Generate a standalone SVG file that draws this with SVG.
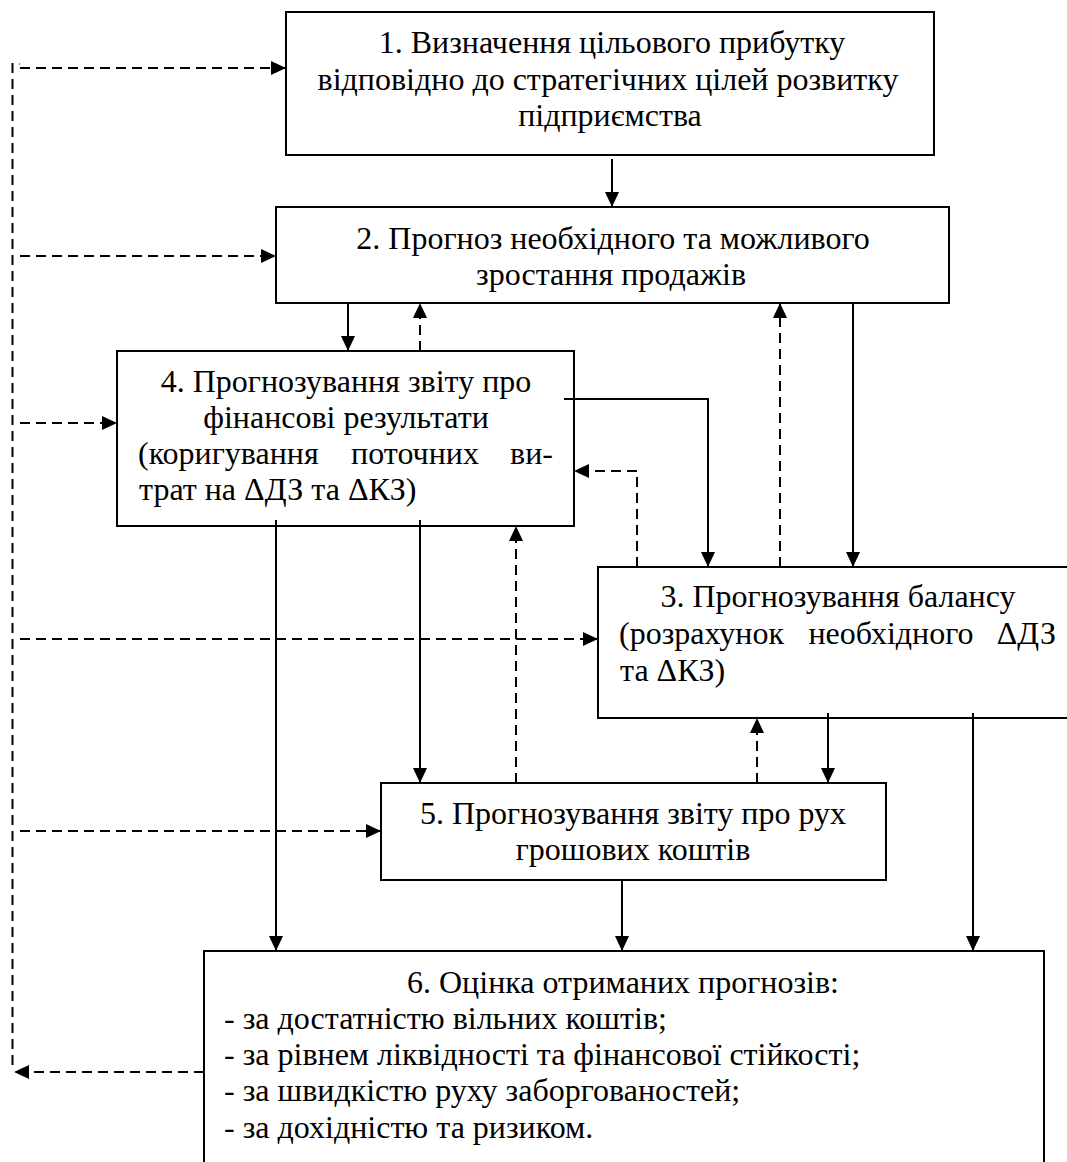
<svg xmlns="http://www.w3.org/2000/svg" width="1067" height="1162" viewBox="0 0 1067 1162">
<defs>
<marker id="ah" markerUnits="userSpaceOnUse" markerWidth="15" markerHeight="14" refX="15" refY="7" orient="auto">
<path d="M0,0 L15,7 L0,14 z" fill="#000"/>
</marker>
<style>
.box{fill:#fff;stroke:#000;stroke-width:2}
.c{text-anchor:middle}
.e{text-anchor:end}
.s{fill:none;stroke:#000;stroke-width:2}
.d{fill:none;stroke:#000;stroke-width:2;stroke-dasharray:10 6}
.a{marker-end:url(#ah)}
</style>
</defs>
<rect width="1067" height="1162" fill="#fff"/>
<g font-family="Liberation Serif, Times New Roman, serif" font-size="32" fill="#000">
<g id="n1">
<rect class="box" x="286" y="12" width="648" height="143"/>
<text class="c" x="612" y="53">1. Визначення цільового прибутку</text>
<text class="c" x="608" y="90">відповідно до стратегічних цілей розвитку</text>
<text class="c" x="610" y="126">підприємства</text>
</g>
<g id="n2">
<rect class="box" x="276" y="207" width="673" height="96"/>
<text class="c" x="613" y="249">2. Прогноз необхідного та можливого</text>
<text class="c" x="611" y="285">зростання продажів</text>
</g>
<g id="n4">
<rect class="box" x="117" y="351" width="457" height="175"/>
<text class="c" x="346" y="392">4. Прогнозування звіту про</text>
<text class="c" x="346" y="428">фінансові результати</text>
<text x="138" y="464">(коригування</text>
<text class="c" x="415" y="464">поточних</text>
<text class="e" x="553" y="464">ви-</text>
<text x="139" y="500">трат на ΔДЗ та ΔКЗ)</text>
</g>
<g id="n3">
<rect class="box" x="598" y="567" width="480" height="151"/>
<text class="c" x="838" y="607">3. Прогнозування балансу</text>
<text x="619" y="644">(розрахунок</text>
<text class="c" x="891" y="644">необхідного</text>
<text class="e" x="1056" y="644">ΔДЗ</text>
<text x="620" y="681">та ΔКЗ)</text>
</g>
<g id="n5">
<rect class="box" x="381" y="783" width="505" height="97"/>
<text class="c" x="633" y="824">5. Прогнозування звіту про рух</text>
<text class="c" x="633" y="860">грошових коштів</text>
</g>
<g id="n6">
<rect class="box" x="204" y="951" width="840" height="230"/>
<text class="c" x="623" y="993">6. Оцінка отриманих прогнозів:</text>
<text x="224" y="1029">- за достатністю вільних коштів;</text>
<text x="224" y="1065">- за рівнем ліквідності та фінансової стійкості;</text>
<text x="224" y="1101">- за швидкістю руху заборгованостей;</text>
<text x="224" y="1138">- за дохідністю та ризиком.</text>
</g>
</g>
<g id="connectors">
<path class="s a" d="M612,159 V207"/>
<path class="s a" d="M348,303 V351"/>
<path class="d a" d="M420,351 V303"/>
<path class="s a" d="M853,303 V567"/>
<path class="d a" d="M780,567 V303"/>
<path class="s a" d="M564,399 H708 V567"/>
<path class="d a" d="M637,567 V471 H574"/>
<path class="s a" d="M276,520 V951"/>
<path class="s a" d="M420,520 V783"/>
<path class="d a" d="M516,783 V526"/>
<path class="d a" d="M757,783 V718"/>
<path class="s a" d="M828,713 V783"/>
<path class="s a" d="M973,713 V951"/>
<path class="s a" d="M622,880 V951"/>
<path class="d a" d="M204,1072 H14"/>
<path class="d" d="M12.5,1065 V64 H20"/>
<path class="d a" d="M20,68 H286"/>
<path class="d a" d="M20,256 H276"/>
<path class="d a" d="M20,423 H117"/>
<path class="d a" d="M20,639 H598"/>
<path class="d a" d="M20,831 H381"/>
</g>
</svg>
